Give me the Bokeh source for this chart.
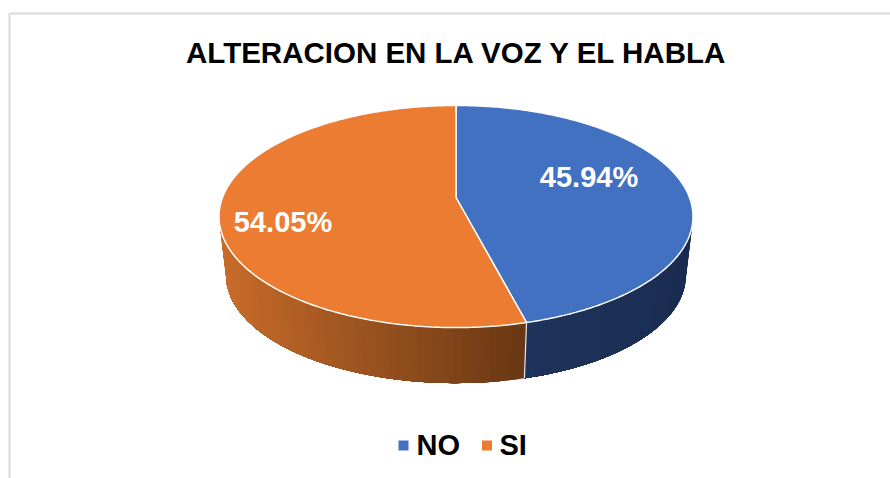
import numpy as np
from bokeh.plotting import figure
from bokeh.models import Range1d
from bokeh.core.properties import value
from bokeh.embed import file_html
from bokeh.resources import INLINE

title_text = "ALTERACION EN LA VOZ Y EL HABLA"
categories = ["NO", "SI"]
percent_values = [45.94, 54.05]
percent_labels = ["45.94%", "54.05%"]
top_colors = ["#4271C1", "#EB7C31"]
border_color = "#D9D9D9"
FONT = "Liberation Sans"

W, H = 890, 478
p = figure(width=W, height=H, output_backend="svg", toolbar_location=None,
           x_range=Range1d(0, W), y_range=Range1d(H, 0),
           min_border=0, outline_line_color=None, background_fill_color="white",
           border_fill_color="white")
p.axis.visible = False
p.grid.visible = False

# perspective projection of the pie disc
CX, CY_TOP, CY_BOT = 455.5, 197.0, 256.5
A, B, K, S = 233.5, 107.8, 0.171, 0.97

def rim(t_deg, cy, scale=1.0):
    t = np.radians(t_deg)
    X, Y = np.sin(t), np.cos(t)
    d = 1 + K * Y
    return CX + scale * A * X / d, cy - scale * B * Y / d

total = sum(percent_values)
split = percent_values[0] / total * 360.0
SIDE_START, SIDE_END = 100.0, 260.0

def lerp(c0, c1, f):
    return "#%02x%02x%02x" % tuple(int(round(a + (b - a) * f)) for a, b in zip(c0, c1))

def side_color(t, is_blue):
    xm = rim(t, CY_BOT, S)[0]
    if is_blue:
        return lerp((31, 52, 92), (26, 44, 80), np.clip((xm - 525) / 160, 0, 1))
    return lerp((105, 56, 20), (201, 108, 42), np.clip((525 - xm) / 300, 0, 1))

# side wall: overlapping bands, painted one over the next, carry the gradient
for start, end, is_blue in [(SIDE_START, split, True), (split, SIDE_END, False)]:
    for t0 in np.arange(start, end, 1.5):
        ts = np.linspace(t0, end, max(int((end - t0) / 1.5) + 2, 2))
        xa, ya = rim(ts, CY_TOP)
        xb, yb = rim(ts[::-1], CY_BOT, S)
        p.patch(np.r_[xa, xb], np.r_[ya, yb], fill_color=side_color(t0, is_blue), line_color=None)

# seam on the side wall
sx0, sy0 = rim(split, CY_TOP)
sx1, sy1 = rim(split, CY_BOT, S)
p.line([sx0, sx1], [sy0, sy1], line_color="#E8E8E8", line_width=1.2)

# top faces
ranges = [(0.0, split), (split, 360.0)]
for (a0, a1), col in zip(ranges, top_colors):
    ts = np.linspace(a0, a1, 240)
    xs, ys = rim(ts, CY_TOP)
    p.patch(np.r_[CX, xs], np.r_[CY_TOP, ys], fill_color=col, line_color="white", line_width=1.5)

# value labels
p.text(x=[588.5, 282.5], y=[176, 221], text=percent_labels, text_color="white",
       text_font=value(FONT), text_font_style="bold", text_font_size="29px",
       text_align="center", text_baseline="middle")

# title
p.text(x=[456.5], y=[52], text=[title_text], text_color="black",
       text_font=value(FONT), text_font_style="bold", text_font_size="29.5px",
       text_align="center", text_baseline="middle")

# legend
p.scatter(x=[403, 486.5], y=[445, 445], marker="square", size=10,
          fill_color=top_colors, line_color=None)
p.text(x=[416, 499], y=[444, 444], text=categories, text_color="black",
       text_font=value(FONT), text_font_style="bold", text_font_size="29px",
       text_align="left", text_baseline="middle")

# chart frame
p.line([9, 9, W], [H, 13, 13], line_color=border_color, line_width=2)

open("out.html", "w").write(file_html(p, INLINE))
